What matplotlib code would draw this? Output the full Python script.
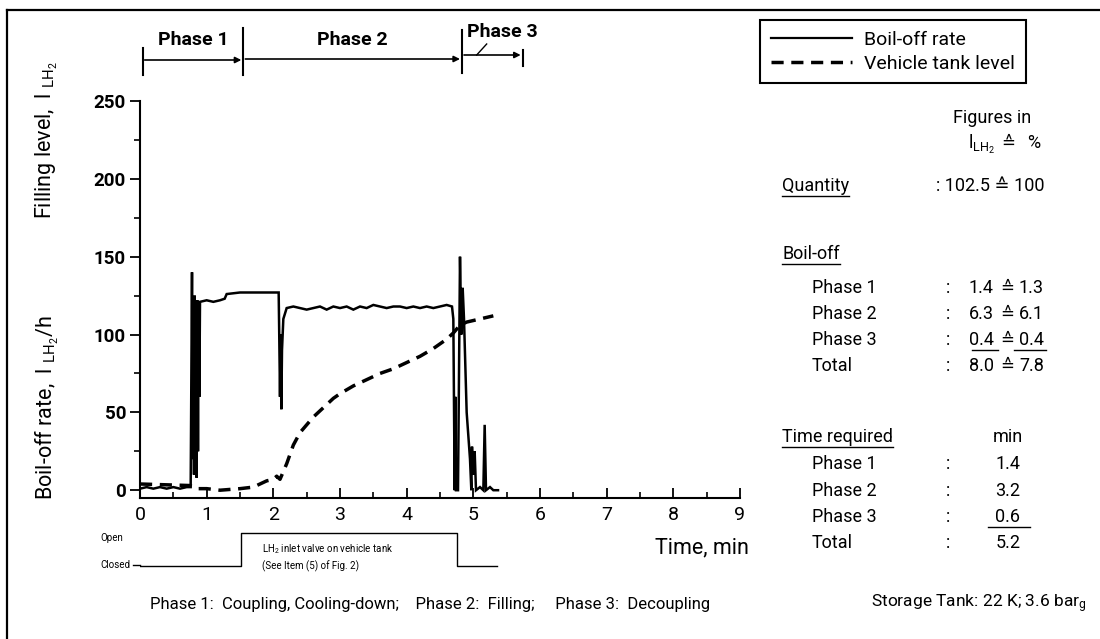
#importing modules
import numpy as np
import matplotlib
matplotlib.use('Agg')
import matplotlib.pyplot as plt
from matplotlib.lines import Line2D
from matplotlib.transforms import blended_transform_factory
from matplotlib.ticker import MultipleLocator

plt.rcParams['font.family'] = ['Roboto', 'DejaVu Sans']
plt.rcParams['mathtext.default'] = 'regular'

#boil-off rate trace, l LH2/h over time in min
boil_t = [0.0, 0.1, 0.2, 0.3, 0.4, 0.5, 0.6, 0.7, 0.76,
          0.78, 0.79, 0.80, 0.81, 0.82, 0.83, 0.84, 0.85, 0.86, 0.87, 0.88, 0.89, 0.9,
          1.0, 1.1, 1.2, 1.27, 1.3, 1.5, 1.7, 1.9, 2.08,
          2.09, 2.1, 2.11, 2.12, 2.13, 2.15, 2.2,
          2.3, 2.4, 2.5, 2.6, 2.7, 2.8, 2.9, 3.0, 3.1, 3.2, 3.3, 3.4, 3.5, 3.6, 3.7, 3.8,
          3.9, 4.0, 4.1, 4.2, 4.3, 4.4, 4.5, 4.6, 4.68,
          4.7, 4.72, 4.73, 4.74, 4.77, 4.8, 4.82, 4.84, 4.86, 4.9, 4.95, 4.97, 4.98, 5.0,
          5.02, 5.04, 5.1, 5.15, 5.17, 5.19, 5.25, 5.3, 5.37]
boil_rate = [1, 2, 1, 2, 1, 2, 1, 2, 2,
             140, 20, 122, 10, 125, 15, 120, 8, 122, 25, 120, 60, 121,
             122, 121, 122, 123, 126, 127, 127, 127, 127,
             95, 60, 100, 52, 90, 110, 117,
             118, 117, 116, 117, 118, 116, 118, 117, 118, 116, 118, 117, 119, 118, 117, 118,
             118, 117, 118, 117, 118, 117, 118, 119, 118,
             110, 0, 60, 0, 0, 150, 100, 130, 110, 50, 20, 0, 28, 10,
             25, 0, 2, 0, 42, 0, 2, 0, 0]

#vehicle tank level, l LH2
tank_t = [0.0, 0.75, 0.85, 1.0, 1.2, 1.5, 1.7, 1.8, 1.9, 2.0, 2.05, 2.1, 2.15, 2.2, 2.3, 2.4,
          2.5, 2.6, 2.7, 2.8, 2.9, 3.0, 3.2, 3.4, 3.6, 3.8, 4.0, 4.2, 4.4, 4.6, 4.7, 4.8,
          4.9, 5.0, 5.1, 5.2, 5.3]
tank_level = [4, 3, 1, 1, 0, 1, 2, 4, 6, 7, 9, 7, 12, 17, 29, 37,
              42, 47, 51, 55, 59, 62, 67, 71, 75, 78, 82, 86, 91, 97, 101, 106,
              108, 109, 110, 111, 112]

#inlet valve state (0 closed, 1 open)
valve_t = [0.0, 1.52, 1.52, 4.75, 4.75, 5.35]
valve_state = [0, 0, 1, 1, 0, 0]

#phase boundaries on the time axis
phase_edges = [0.04, 1.55, 4.83, 5.74]
phase_names = ['Phase 1', 'Phase 2', 'Phase 3']

#figures table
boil_rows = ['Phase 1', 'Phase 2', 'Phase 3', 'Total']
boil_l = ['1.4', '6.3', '0.4', '8.0']
boil_pct = ['1.3', '6.1', '0.4', '7.8']
time_rows = ['Phase 1', 'Phase 2', 'Phase 3', 'Total']
time_min = ['1.4', '3.2', '0.6', '5.2']

W, H = 1100, 639
fig = plt.figure(figsize=(11, 6.39), dpi=100)

def box(x0, y0, x1, y1):
    return [x0 / W, 1 - y1 / H, (x1 - x0) / W, (y1 - y0) / H]

def ftext(x, y, s, **kw):
    return fig.text(x / W, 1 - y / H, s, **kw)

def fline(xs, ys, **kw):
    fig.add_artist(Line2D([x / W for x in xs], [1 - y / H for y in ys],
                          transform=fig.transFigure, color='black', **kw))

#main chart
ax = fig.add_axes(box(140, 101, 740, 498))
ax.plot(boil_t, boil_rate, color='black', lw=1.8, solid_joinstyle='miter')
ax.plot(tank_t, tank_level, color='black', lw=2.5, dashes=(3.5, 2.2))
ax.set_xlim(0, 9)
ax.set_ylim(-5, 250)
ax.spines['top'].set_visible(False)
ax.spines['right'].set_visible(False)
ax.spines['left'].set_linewidth(1.5)
ax.spines['bottom'].set_linewidth(1.5)
ax.yaxis.set_major_locator(MultipleLocator(50))
ax.yaxis.set_minor_locator(MultipleLocator(25))
ax.xaxis.set_major_locator(MultipleLocator(1))
ax.xaxis.set_minor_locator(MultipleLocator(0.5))
ax.tick_params(axis='y', which='major', direction='out', length=7, width=1.3, labelsize=13.5, pad=3)
ax.tick_params(axis='y', which='minor', direction='out', length=4, width=1.2)
ax.tick_params(axis='x', which='major', direction='in', length=7, width=1.3, labelsize=14, pad=6)
ax.tick_params(axis='x', which='minor', direction='in', length=4, width=1.2)
for lab in ax.get_yticklabels():
    lab.set_fontweight('bold')

#legend
handles = [Line2D([], [], color='black', lw=1.6),
           Line2D([], [], color='black', lw=2.5, dashes=(3.5, 2.2))]
leg = ax.legend(handles, ['Boil-off rate', 'Vehicle tank level'], loc='upper left',
                bbox_to_anchor=(760 / W, 1 - 20 / H), bbox_transform=fig.transFigure,
                fancybox=False, edgecolor='black', fontsize=14, handlelength=4.2,
                handletextpad=0.6, borderpad=0.55, labelspacing=0.3, framealpha=1,
                borderaxespad=0)
leg.get_frame().set_linewidth(1.5)

#phase bar on top
tr = blended_transform_factory(ax.transData, fig.transFigure)
def py(y):
    return 1 - y / H
bar_spans = [(48, 75), (28, 75), (30, 73), (50, 66)]
for xe, (ya, yb) in zip(phase_edges, bar_spans):
    ax.add_line(Line2D([xe, xe], [py(ya), py(yb)], transform=tr, color='black', lw=1.5, clip_on=False))
arrow_y = [60, 59, 55]
for i, name in enumerate(phase_names):
    ax.annotate('', xy=(phase_edges[i + 1] - 0.03, py(arrow_y[i])), xycoords=tr,
                xytext=(phase_edges[i] + 0.03, py(arrow_y[i])), textcoords=tr,
                arrowprops=dict(arrowstyle='-|>', color='black', lw=1.2,
                                mutation_scale=9, shrinkA=0, shrinkB=0))
ax.text((phase_edges[0] + phase_edges[1]) / 2, py(40), phase_names[0], transform=tr,
        ha='center', va='center', fontsize=14, fontweight='bold')
ax.text((phase_edges[1] + phase_edges[2]) / 2, py(40), phase_names[1], transform=tr,
        ha='center', va='center', fontsize=14, fontweight='bold')
ax.text(phase_edges[2] + 0.08, py(32), phase_names[2], transform=tr,
        ha='left', va='center', fontsize=14, fontweight='bold')
ax.add_line(Line2D([5.05, 5.2], [py(55), py(44)], transform=tr, color='black', lw=1.0, clip_on=False))

#valve diagram
axv = fig.add_axes(box(140, 530, 740, 569))
axv.plot(valve_t, valve_state, color='black', lw=1.0)
axv.set_xlim(0, 9)
axv.set_ylim(-0.1, 1.1)
axv.axis('off')
ftext(100, 538, 'Open', fontsize=7, va='center')
ftext(100, 565, 'Closed', fontsize=7, va='center')
fline([133, 140], [565, 565], lw=1.0)
ftext(262, 549, 'LH$_2$ inlet valve on vehicle tank', fontsize=7, va='center')
ftext(262, 566, '(See Item (5) of Fig. 2)', fontsize=7, va='center')
ftext(655, 548, 'Time, min', fontsize=15.5, va='center')

#axis titles
ftext(47, 408, 'Boil-off rate,  l $_{LH_2}$/h', rotation=90, ha='center', va='center', fontsize=15.5)
ftext(47, 140, 'Filling level,  l $_{LH_2}$', rotation=90, ha='center', va='center', fontsize=15.5)

#figures table
fig.canvas.draw()
renderer = fig.canvas.get_renderer()

def underline(t, y, x0=None, x1=None):
    bb = t.get_window_extent(renderer)
    xa = bb.x0 if x0 is None else x0
    xb = bb.x1 if x1 is None else x1
    fline([xa, xb], [y, y], lw=1.0)

fs = 13
ftext(992, 118, 'Figures in', fontsize=fs, ha='center', va='center')
ftext(995, 144, 'l$_{LH_2}$', fontsize=fs, ha='right', va='center')
ftext(1008, 143, '\u2259', fontsize=fs - 1, ha='center', va='center')
ftext(1040, 143, '%', fontsize=fs, ha='right', va='center')
t = ftext(782, 186, 'Quantity', fontsize=fs, va='center')
underline(t, 196)
ftext(1045, 186, ': 102.5 \u2259 100', fontsize=fs, ha='right', va='center')

t = ftext(782, 254, 'Boil-off', fontsize=fs, va='center')
underline(t, 264)
boil_y = [288, 314, 340, 366]
for lab, a, b, y in zip(boil_rows, boil_l, boil_pct, boil_y):
    ftext(812, y, lab, fontsize=fs, va='center')
    ftext(948, y, ':', fontsize=fs, ha='center', va='center')
    ta = ftext(994, y, a, fontsize=fs, ha='right', va='center')
    ftext(1007, y, '\u2259', fontsize=fs - 1, ha='center', va='center')
    tb = ftext(1044, y, b, fontsize=fs, ha='right', va='center')
    if lab == 'Phase 3':
        underline(ta, y + 10, x0=972, x1=998)
        underline(tb, y + 10, x0=1014, x1=1046)

t = ftext(782, 437, 'Time required', fontsize=fs, va='center')
underline(t, 447)
ftext(1008, 437, 'min', fontsize=fs, ha='center', va='center')
time_y = [464, 491, 517, 543]
for lab, v, y in zip(time_rows, time_min, time_y):
    ftext(812, y, lab, fontsize=fs, va='center')
    ftext(948, y, ':', fontsize=fs, ha='center', va='center')
    tv = ftext(1008, y, v, fontsize=fs, ha='center', va='center')
    if lab == 'Phase 3':
        underline(tv, y + 10, x0=988, x1=1030)

#captions
ftext(150, 604, 'Phase 1:  Coupling, Cooling-down;    Phase 2:  Filling;     Phase 3:  Decoupling',
      fontsize=12, va='center')
ftext(1087, 604, 'Storage Tank: 22 K; 3.6 bar$_g$', fontsize=12.5, ha='right', va='center')

#frame
fline([7, 1100], [10, 10], lw=1.6)
fline([7, 7], [10, 639], lw=1.6)

plt.savefig('out.png', dpi=100)
